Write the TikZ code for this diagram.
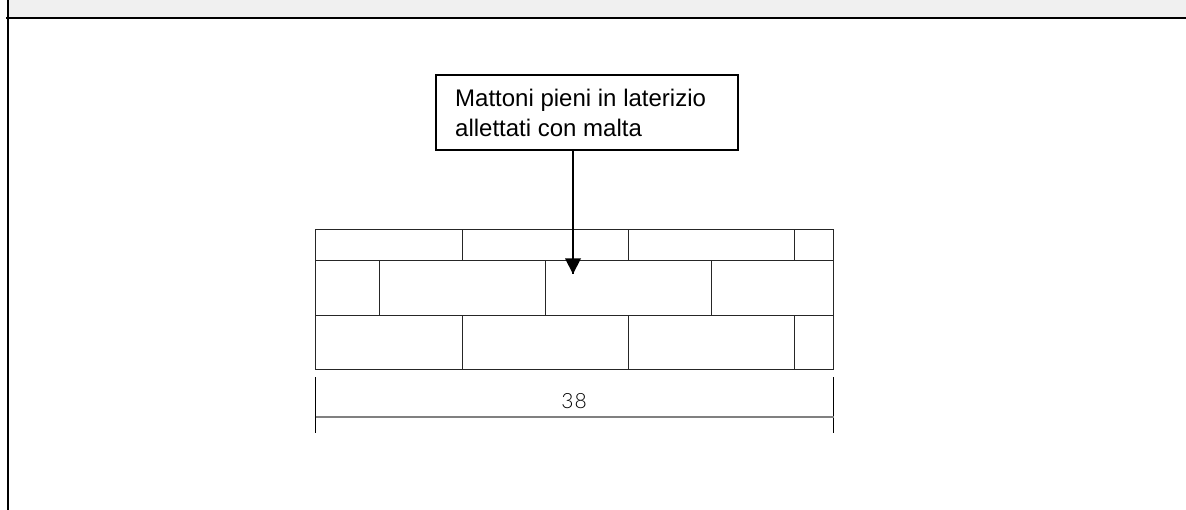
\documentclass[tikz,border=0pt]{standalone}
\usepackage{fontspec}
\setmainfont{Liberation Sans}
\newfontfamily\dimfont[LetterSpace=5]{Lato Light}
\tikzset{
  x=1pt,y=-1pt,
  frameline/.style={line width=2pt,black},
  brick/.style={line width=1pt,draw=black!85},
  dimline/.style={line width=1.6pt,draw=black!50},
  tick/.style={line width=1pt,draw=black},
  callout/.style={draw=black,line width=2pt,minimum width=302pt,minimum height=75pt,inner sep=0pt,fill=white},
  pointer/.style={line width=1.6pt,black}
}
\begin{document}
\begin{tikzpicture}
\useasboundingbox (0,0) rectangle (1186,510);
\fill[black!6] (8,0) rectangle (1186,17.5);
\coordinate (vt) at (8,0);
\coordinate (vb) at (8,510);
\coordinate (hl) at (6,18);
\coordinate (hr) at (1186,18);
\draw[frameline] (vt) -- (vb);
\draw[frameline] (hl) -- (hr);
% wall
\draw[brick] (315.5,229.5) rectangle (833.5,369.5);
\draw[brick] (315.5,260.5) -- (833.5,260.5);
\draw[brick] (315.5,315.5) -- (833.5,315.5);
\foreach \x in {462.5,628.5,794.5}{
  \draw[brick] (\x,229.5) -- (\x,260.5);
  \draw[brick] (\x,315.5) -- (\x,369.5);
}
\foreach \x in {379,545.5,711.5}{
  \draw[brick] (\x,260.5) -- (\x,315.5);
}
% dimension
\draw[tick] (315.5,377.5) -- (315.5,433);
\draw[tick] (833.5,377.5) -- (833.5,433);
\draw[dimline] (315.5,417) -- (833.5,417);
\node[inner sep=0pt,font=\dimfont\fontsize{21}{23}\selectfont] (dim) at (574,401.5) {38};
% callout
\node[callout,anchor=north west] (box) at (434.5,74) {};
\node[anchor=base west,inner sep=0pt,align=left,font=\fontsize{24}{30}\selectfont] (txt) at (455,137) {Mattoni pieni in laterizio\\allettati con malta};
\coordinate (tip) at (573,274);
\draw[pointer] (box.south -| tip) -- (tip);
\fill (565,258.5) -- (581,258.5) -- (tip) -- cycle;
\end{tikzpicture}
\end{document}
